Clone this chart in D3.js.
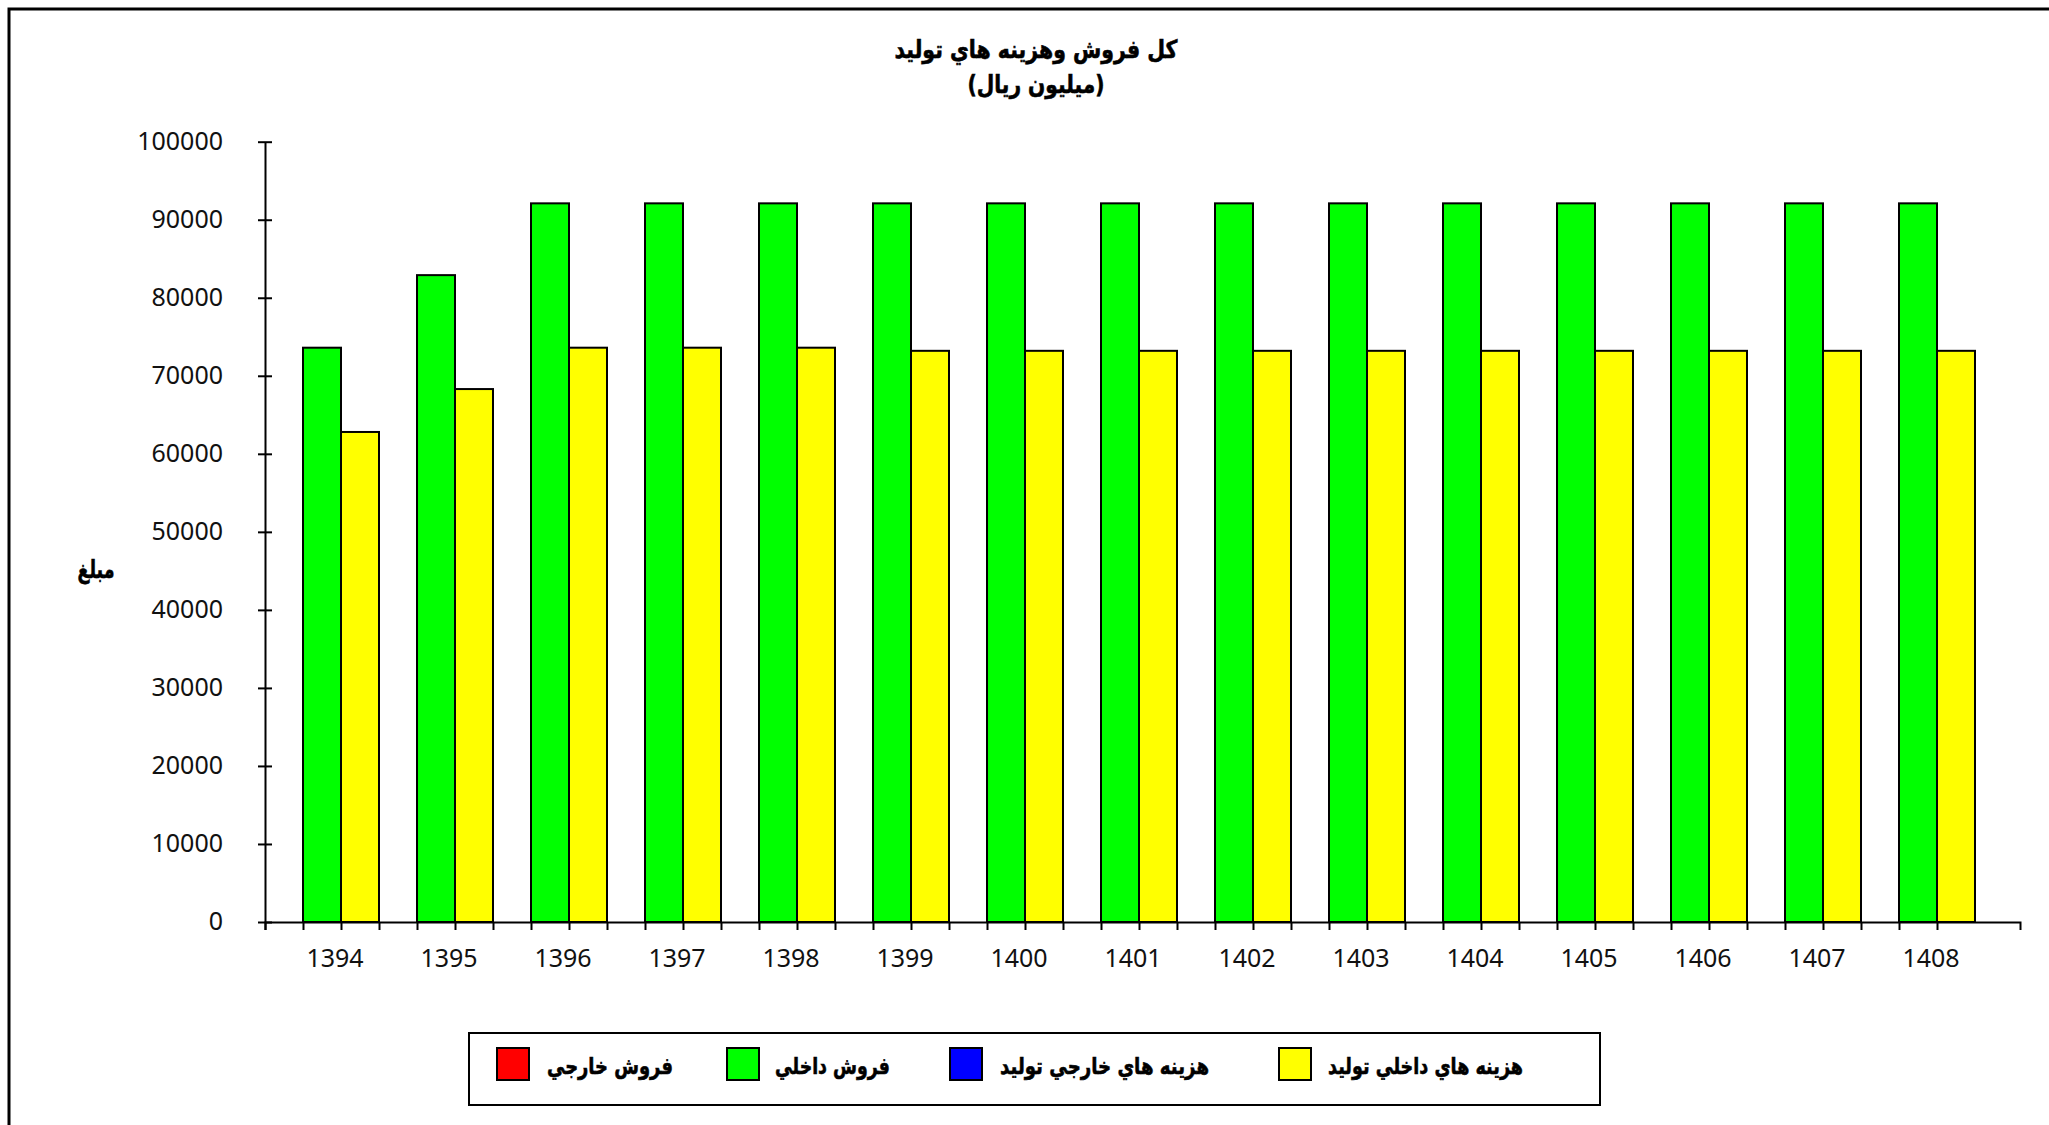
<!DOCTYPE html>
<html>
<head>
<meta charset="utf-8">
<script src="https://cdn.jsdelivr.net/npm/d3@7"></script>
<style>
	body { margin: 0; background: #fff; }
	.num { font-family: "Noto Sans", sans-serif; font-size: 25px; fill: #111; }
	.ar { font-family: "DejaVu Sans", sans-serif; font-weight: bold; fill: #000; stroke: #000; stroke-width: 0.6px; }
</style>
</head>
<body>
<div id="vis"></div>
<script>
// declare constants
const FRAME_WIDTH = 2049;
const FRAME_HEIGHT = 1125;

// data
const YEARS = ["1394", "1395", "1396", "1397", "1398", "1399", "1400", "1401",
				"1402", "1403", "1404", "1405", "1406", "1407", "1408"];
const FOREIGN_SALES = [0, 0, 0, 0, 0, 0, 0, 0, 0, 0, 0, 0, 0, 0, 0];
const DOMESTIC_SALES = [73600, 82900, 92100, 92100, 92100, 92100, 92100, 92100,
						92100, 92100, 92100, 92100, 92100, 92100, 92100];
const FOREIGN_COST = [0, 0, 0, 0, 0, 0, 0, 0, 0, 0, 0, 0, 0, 0, 0];
const DOMESTIC_COST = [62800, 68300, 73600, 73600, 73600, 73200, 73200, 73200,
						73200, 73200, 73200, 73200, 73200, 73200, 73200];
const Y_TICKS = [0, 10000, 20000, 30000, 40000, 50000, 60000, 70000, 80000, 90000, 100000];

const SERIES = [
	{name: "فروش خارجي", color: "#ff0000", values: FOREIGN_SALES, slot: "a"},
	{name: "فروش داخلي", color: "#00ff00", values: DOMESTIC_SALES, slot: "b"},
	{name: "هزينه هاي خارجي توليد", color: "#0000ff", values: FOREIGN_COST, slot: "a"},
	{name: "هزينه هاي داخلي توليد", color: "#ffff00", values: DOMESTIC_COST, slot: "c"}
];

// plot area
const PLOT = {left: 265, top: 141.7, bottom: 922, right: 2020, step: 114};

const SVG = d3.select("#vis")
	.append("svg")
		.attr("width", FRAME_WIDTH)
		.attr("height", FRAME_HEIGHT);

// outer frame (only top and left edges are visible)
SVG.append("rect")
	.attr("x", 9).attr("y", 9)
	.attr("width", FRAME_WIDTH + 50).attr("height", FRAME_HEIGHT + 50)
	.attr("fill", "#fff")
	.attr("stroke", "#000")
	.attr("stroke-width", 3);

// title
SVG.append("text")
	.attr("class", "ar")
	.attr("x", 1036).attr("y", 58)
	.attr("text-anchor", "middle")
	.attr("font-size", "25px")
	.attr("textLength", 283)
	.attr("lengthAdjust", "spacingAndGlyphs")
	.text("كل فروش وهزينه هاي توليد");
SVG.append("text")
	.attr("class", "ar")
	.attr("x", 1036).attr("y", 93)
	.attr("text-anchor", "middle")
	.attr("font-size", "25px")
	.attr("textLength", 137)
	.attr("lengthAdjust", "spacingAndGlyphs")
	.text("(ميليون ريال)");

// y axis label
SVG.append("text")
	.attr("class", "ar")
	.attr("x", 96).attr("y", 578)
	.attr("text-anchor", "middle")
	.attr("font-size", "25px")
	.attr("textLength", 37)
	.attr("lengthAdjust", "spacingAndGlyphs")
	.text("مبلغ");

// scales
const X_SCALE = d3.scaleBand()
					.domain(YEARS)
					.range([PLOT.left, PLOT.left + PLOT.step * YEARS.length]);
const SLOT_SCALE = d3.scaleBand()
					.domain(["a", "b", "c"])
					.range([0, X_SCALE.bandwidth()]);
const Y_SCALE = d3.scaleLinear()
					.domain([0, 100000])
					.range([PLOT.bottom, PLOT.top]);

// bars
SERIES.forEach((s) => {
	SVG.selectAll("bars")
		.data(s.values.map((v, i) => ({year: YEARS[i], value: v})).filter((d) => d.value > 0))
		.enter()
		.append("rect")
			.attr("x", (d) => X_SCALE(d.year) + SLOT_SCALE(s.slot))
			.attr("y", (d) => Y_SCALE(d.value))
			.attr("width", SLOT_SCALE.bandwidth())
			.attr("height", (d) => Y_SCALE(0) - Y_SCALE(d.value))
			.attr("fill", s.color)
			.attr("stroke", "#000")
			.attr("stroke-width", 2);
});

// x axis: a tick at every bar slot, plus the end of the axis
const SLOT_W = PLOT.step / 3;
const TICK_SCALE = d3.scaleLinear()
					.domain([0, (PLOT.right - PLOT.left) / SLOT_W])
					.range([PLOT.left, PLOT.right]);
const X_AXIS = SVG.append("g")
	.attr("transform", "translate(0," + PLOT.bottom + ")")
	.call(d3.axisBottom(TICK_SCALE)
			.tickValues(d3.range(0, 45))
			.tickSize(8)
			.tickSizeOuter(8)
			.tickFormat(""));
X_AXIS.selectAll("path, line").attr("stroke", "#000").attr("stroke-width", 2);

// year labels
SVG.selectAll("yearLabels")
	.data(YEARS)
	.enter()
	.append("text")
		.attr("class", "num")
		.attr("x", (d) => X_SCALE(d) + 70)
		.attr("y", 967)
		.attr("text-anchor", "middle")
		.text((d) => d);

// y axis
const Y_AXIS = SVG.append("g")
	.attr("transform", "translate(" + PLOT.left + ",0)")
	.call(d3.axisLeft(Y_SCALE)
			.tickValues(Y_TICKS)
			.tickSize(7)
			.tickSizeOuter(0)
			.tickPadding(35)
			.tickFormat(d3.format("d")));
Y_AXIS.selectAll("line").attr("x1", 7);
Y_AXIS.selectAll("path, line").attr("stroke", "#000").attr("stroke-width", 2);
Y_AXIS.selectAll("text")
	.attr("class", "num")
	.attr("font-family", null)
	.attr("font-size", null)
	.attr("dy", "0.3em");

// legend
SVG.append("rect")
	.attr("x", 469).attr("y", 1033)
	.attr("width", 1131).attr("height", 72)
	.attr("fill", "#fff")
	.attr("stroke", "#000")
	.attr("stroke-width", 2);

const LEGEND_X = [{box: 497, text: 673, w: 126}, {box: 727, text: 890, w: 115},
				{box: 950, text: 1209, w: 209}, {box: 1279, text: 1523, w: 195}];

SERIES.forEach((s, i) => {
	SVG.append("rect")
		.attr("x", LEGEND_X[i].box).attr("y", 1048)
		.attr("width", 32).attr("height", 32)
		.attr("fill", s.color)
		.attr("stroke", "#000")
		.attr("stroke-width", 2);
	SVG.append("text")
		.attr("class", "ar")
		.attr("x", LEGEND_X[i].text).attr("y", 1074)
		.attr("text-anchor", "end")
		.attr("font-size", "23px")
		.attr("textLength", LEGEND_X[i].w)
		.attr("lengthAdjust", "spacingAndGlyphs")
		.text(s.name);
});
</script>
</body>
</html>
